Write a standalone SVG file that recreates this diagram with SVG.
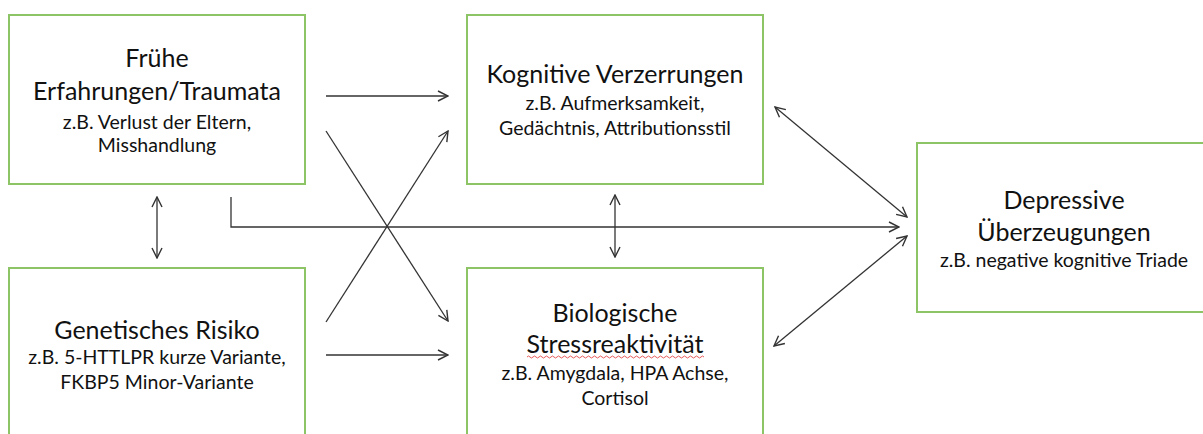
<svg xmlns="http://www.w3.org/2000/svg" width="1203" height="434" viewBox="0 0 1203 434">
<style>
.box{fill:#fff;stroke:#8cc466;stroke-width:2}
.t{font-family:Lato,"Liberation Sans",sans-serif;fill:#111;text-anchor:middle}
.h{font-size:25px}
.s{font-size:19.5px}
.c{fill:none;stroke:#333;stroke-width:1.3}
</style>
<defs>
<marker id="ah" viewBox="0 0 12 12" refX="11" refY="6" markerWidth="12" markerHeight="12" markerUnits="userSpaceOnUse" orient="auto-start-reverse">
<path d="M1,1 L11,6 L1,11" fill="none" stroke="#333" stroke-width="1.4"/>
</marker>
</defs>
<rect width="1203" height="434" fill="#fff"/>
<g id="n1">
<rect class="box" x="9" y="15" width="296" height="169"/>
<text class="t h" x="157" y="67">Frühe</text>
<text class="t h" x="157" y="100">Erfahrungen/Traumata</text>
<text class="t s" x="157" y="129">z.B. Verlust der Eltern,</text>
<text class="t s" x="157" y="152">Misshandlung</text>
</g>
<g id="n2">
<rect class="box" x="9" y="268" width="296" height="180"/>
<text class="t h" x="157" y="339">Genetisches Risiko</text>
<text class="t s" x="157" y="364">z.B. 5-HTTLPR kurze Variante,</text>
<text class="t s" x="157" y="389">FKBP5 Minor-Variante</text>
</g>
<g id="n3">
<rect class="box" x="467" y="15" width="296" height="169"/>
<text class="t h" x="615" y="83">Kognitive Verzerrungen</text>
<text class="t s" x="615" y="110">z.B. Aufmerksamkeit,</text>
<text class="t s" x="615" y="135">Gedächtnis, Attributionsstil</text>
</g>
<g id="n4">
<rect class="box" x="467" y="268" width="296" height="180"/>
<text class="t h" x="615" y="322">Biologische</text>
<text class="t h" x="615" y="353">Stressreaktivität</text>
<path d="M527,357 q1.5,-2 3,0 t3,0 t3,0 t3,0 t3,0 t3,0 t3,0 t3,0 t3,0 t3,0 t3,0 t3,0 t3,0 t3,0 t3,0 t3,0 t3,0 t3,0 t3,0 t3,0 t3,0 t3,0 t3,0 t3,0 t3,0 t3,0 t3,0 t3,0 t3,0 t3,0 t3,0 t3,0 t3,0 t3,0 t3,0 t3,0 t3,0 t3,0 t3,0 t3,0 t3,0 t3,0 t3,0 t3,0 t3,0 t3,0 t3,0 t3,0 t3,0 t3,0 t3,0 t3,0 t3,0 t3,0 t3,0 t3,0 t3,0 t3,0 t3,0" fill="none" stroke="#e03030" stroke-width="0.8"/>
<text class="t s" x="615" y="380">z.B. Amygdala, HPA Achse,</text>
<text class="t s" x="615" y="405">Cortisol</text>
</g>
<g id="n5">
<rect class="box" x="917" y="143" width="300" height="169"/>
<text class="t h" x="1064" y="209">Depressive</text>
<text class="t h" x="1064" y="241">Überzeugungen</text>
<text class="t s" x="1064" y="267">z.B. negative kognitive Triade</text>
</g>
<g id="connectors">
<path class="c" d="M326,96 H448" marker-end="url(#ah)"/>
<path class="c" d="M326,131 L448,321" marker-end="url(#ah)"/>
<path class="c" d="M326,322 L448,131" marker-end="url(#ah)"/>
<path class="c" d="M326,355 H448" marker-end="url(#ah)"/>
<path class="c" d="M231,197 V227 H899" marker-end="url(#ah)"/>
<path class="c" d="M157,197 V258" marker-start="url(#ah)" marker-end="url(#ah)"/>
<path class="c" d="M615,195 V257" marker-start="url(#ah)" marker-end="url(#ah)"/>
<path class="c" d="M775,107 L907,217" marker-start="url(#ah)" marker-end="url(#ah)"/>
<path class="c" d="M907,236 L774,346" marker-start="url(#ah)" marker-end="url(#ah)"/>
</g>
</svg>
